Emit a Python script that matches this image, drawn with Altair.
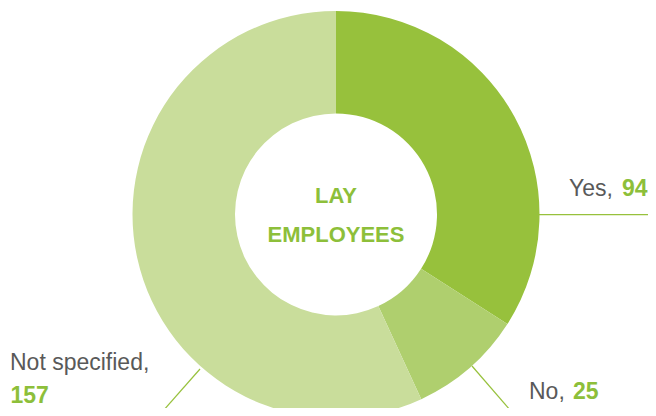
import altair as alt
import pandas as pd

# data
categories = ["Yes", "No", "Not specified"]
values = [94, 25, 157]
center_title = ["LAY", "EMPLOYEES"]

# styles / layout
slice_colors = ["#97c13c", "#afcf6e", "#c9dd9b"]
gray = "#595959"
green = "#8dbf3a"
W, H = 640, 400
CX, CY = 328, 206.4
R_OUT, R_IN = 203.5, 101

# label layout (chart pixel coordinates): name x, name y, number x, number y
label_pos = {
    "Yes": (561, 188, 614, 188),
    "No": (521, 391, 565, 391),
    "Not specified": (2, 362, 2.5, 394.5),
}
# leader lines: x, y, x2, y2
leader_pos = {
    "Yes": (531, 206.6, 660, 206.6),
    "No": (464, 358, 528, 432),
    "Not specified": (192, 361, 140, 420),
}

df = pd.DataFrame({"cat": categories, "val": values, "order": list(range(len(categories)))})

arc = alt.Chart(df).mark_arc(radius=R_OUT, innerRadius=R_IN, stroke=None).encode(
    theta=alt.Theta("val:Q", stack=True),
    order=alt.Order("order:Q"),
    color=alt.Color("cat:N", scale=alt.Scale(domain=categories, range=slice_colors), legend=None),
    x=alt.value(CX),
    y=alt.value(CY),
)

lab_rows = []
for c, v in zip(categories, values):
    nx, ny, vx, vy = label_pos[c]
    lx, ly, lx2, ly2 = leader_pos[c]
    lab_rows.append({"name": c + ",", "num": str(v), "nx": nx, "ny": ny, "vx": vx, "vy": vy,
                     "lx": lx, "ly": ly, "lx2": lx2, "ly2": ly2})
lab = pd.DataFrame(lab_rows)

sx = alt.Scale(domain=[0, W], range=[0, W])
sy = alt.Scale(domain=[0, H], range=[0, H])

lines = alt.Chart(lab).mark_rule(color="#97c13c", strokeWidth=1.2).encode(
    x=alt.X("lx:Q", scale=sx, axis=None),
    y=alt.Y("ly:Q", scale=sy, axis=None),
    x2="lx2:Q",
    y2="ly2:Q",
)

names = alt.Chart(lab).mark_text(
    align="left", baseline="alphabetic", font="Liberation Sans", fontSize=23, color=gray
).encode(
    x=alt.X("nx:Q", scale=sx, axis=None),
    y=alt.Y("ny:Q", scale=sy, axis=None),
    text="name:N",
)

nums = alt.Chart(lab).mark_text(
    align="left", baseline="alphabetic", font="Liberation Sans", fontSize=23,
    fontWeight="bold", color=green
).encode(
    x=alt.X("vx:Q", scale=sx, axis=None),
    y=alt.Y("vy:Q", scale=sy, axis=None),
    text="num:N",
)

title_df = pd.DataFrame({"t": center_title, "ty": [195, 233.5]})
center = alt.Chart(title_df).mark_text(
    align="center", baseline="alphabetic", font="Liberation Sans", fontSize=22,
    fontWeight="bold", color=green
).encode(
    x=alt.value(CX),
    y=alt.Y("ty:Q", scale=sy, axis=None),
    text="t:N",
)

chart = alt.layer(arc, lines, names, nums, center).resolve_scale(
    x="shared", y="shared"
).properties(
    width=W, height=H, autosize=alt.AutoSizeParams(type="none"), padding=0,
    background="white",
).configure_view(stroke=None)

chart.save("out.html", embed_options={"renderer": "svg", "actions": False})
